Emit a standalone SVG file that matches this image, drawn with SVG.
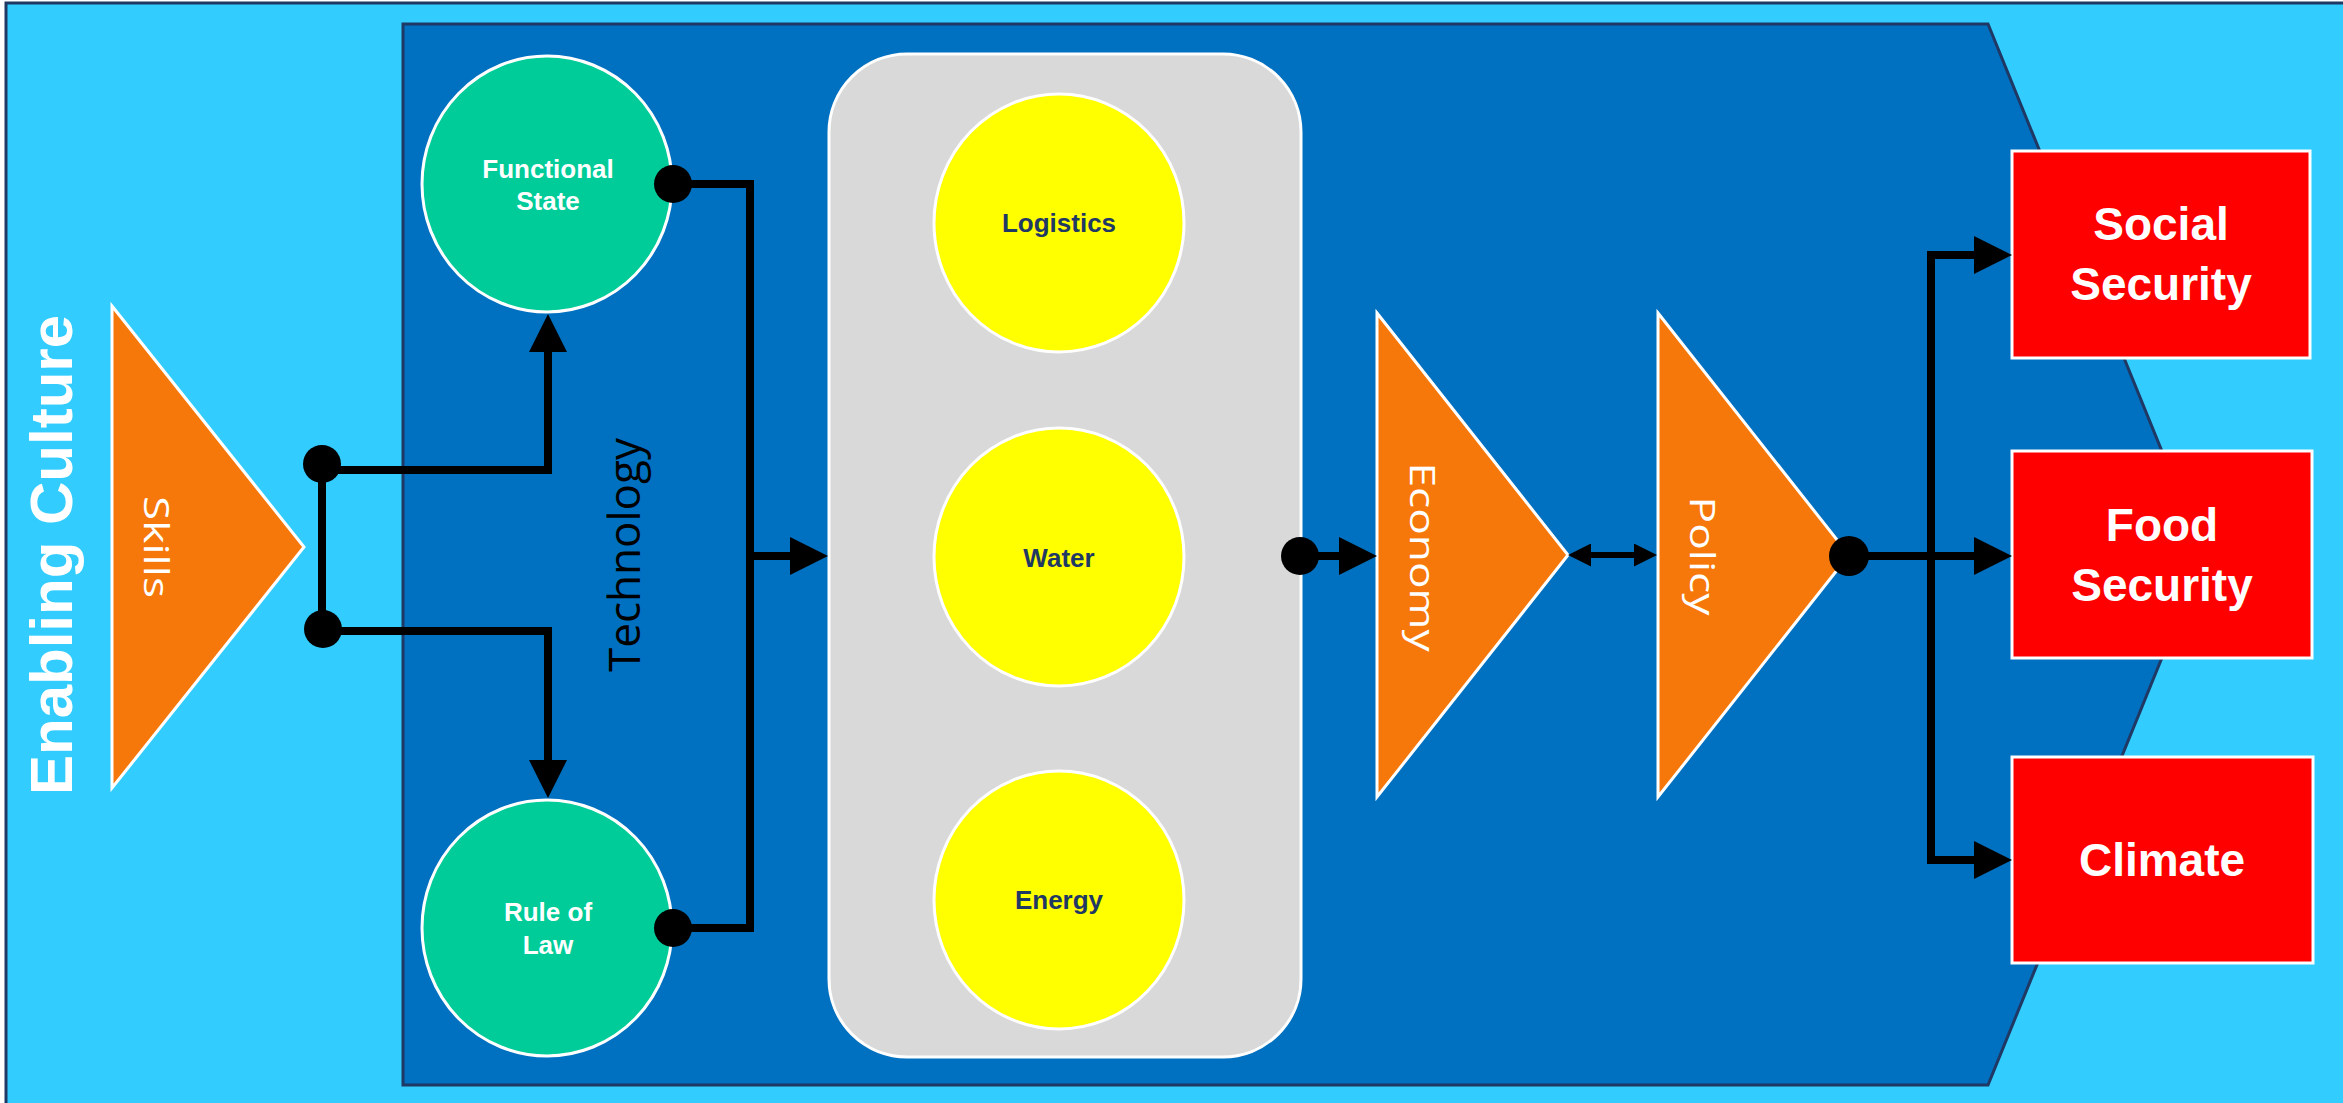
<svg xmlns="http://www.w3.org/2000/svg" width="2343" height="1103" viewBox="0 0 2343 1103">
<defs>
<style>
.frame{fill:#33CCFF;stroke:#1F3864;stroke-width:3}
.zone{fill:#0070C0;stroke:#1F3864;stroke-width:3}
.panel{fill:#D9D9D9;stroke:#FFFFFF;stroke-width:3}
.green{fill:#00CC99;stroke:#FFFFFF;stroke-width:3}
.yellow{fill:#FFFF00;stroke:#FFFFFF;stroke-width:3}
.tri{fill:#F7780A;stroke:#FFFFFF;stroke-width:3;stroke-linejoin:miter}
.box{fill:#FF0000;stroke:#FFFFFF;stroke-width:3}
.wire{fill:none;stroke:#000000;stroke-width:8;stroke-linejoin:miter}
.wire2{fill:none;stroke:#000000;stroke-width:6}
.dot{fill:#000000}
.lbl{font-family:"Liberation Sans",Arial,sans-serif;font-weight:bold;font-size:26px;text-anchor:middle}
.wl{fill:#FFFFFF}
.nl{fill:#1F3864}
.big{font-family:"Liberation Sans",Arial,sans-serif;font-weight:bold;font-size:46px;fill:#FFFFFF;text-anchor:middle}
.thin{font-family:"Open Sans","Liberation Sans",sans-serif;font-weight:400;font-size:34px;fill:#FFFFFF;text-anchor:middle}
.tech{font-family:"Open Sans","Liberation Sans",sans-serif;font-weight:400;font-size:44px;fill:#000000;text-anchor:middle}
.title{font-family:"Liberation Sans",Arial,sans-serif;font-weight:bold;font-size:60px;fill:#FFFFFF;text-anchor:middle}
</style>
<marker id="arr" markerUnits="userSpaceOnUse" markerWidth="38" markerHeight="38" refX="1" refY="19" orient="auto">
<path d="M0,0 L38,19 L0,38 Z" fill="#000000"/>
</marker>
<marker id="arrS" markerUnits="userSpaceOnUse" markerWidth="23" markerHeight="23" refX="1" refY="11.5" orient="auto-start-reverse">
<path d="M0,0 L23,11.5 L0,23 Z" fill="#000000"/>
</marker>
</defs>

<g id="background">
<rect class="frame" x="6" y="3" width="2345" height="1110"/>
<text class="title" transform="translate(72,555) rotate(-90)">Enabling Culture</text>
</g>

<g id="technology-zone">
<polygon class="zone" points="403,24 1988,24 2204,554.5 1988,1085 403,1085"/>
<text class="tech" transform="translate(640,555) rotate(-90)">Technology</text>
</g>

<g id="skills">
<polygon class="tri" points="112,306 304,547 112,788"/>
<text class="thin" transform="translate(144,547) rotate(90) scale(1.3,1)">Skills</text>
</g>

<g id="functional-state">
<ellipse class="green" cx="547" cy="184" rx="125" ry="128"/>
<text class="lbl wl" x="548" y="177.5">Functional</text>
<text class="lbl wl" x="548" y="210">State</text>
</g>

<g id="rule-of-law">
<ellipse class="green" cx="547" cy="928" rx="125" ry="128"/>
<text class="lbl wl" x="548" y="921">Rule of</text>
<text class="lbl wl" x="548" y="954">Law</text>
</g>

<g id="infrastructure">
<rect class="panel" x="829" y="54" width="472" height="1003" rx="78" ry="78"/>
</g>

<g id="logistics">
<ellipse class="yellow" cx="1059" cy="223" rx="125" ry="129"/>
<text class="lbl nl" x="1059" y="232">Logistics</text>
</g>

<g id="water">
<ellipse class="yellow" cx="1059" cy="557" rx="125" ry="129"/>
<text class="lbl nl" x="1059" y="567">Water</text>
</g>

<g id="energy">
<ellipse class="yellow" cx="1059" cy="900" rx="125" ry="129"/>
<text class="lbl nl" x="1059" y="909">Energy</text>
</g>

<g id="economy">
<polygon class="tri" points="1377,313 1568,555 1377,797"/>
<text class="thin" transform="translate(1410,557) rotate(90) scale(1.3,1)">Economy</text>
</g>

<g id="policy">
<polygon class="tri" points="1658,313 1849,555 1658,797"/>
<text class="thin" transform="translate(1690,556) rotate(90) scale(1.3,1)">Policy</text>
</g>

<g id="social-security">
<rect class="box" x="2012" y="151" width="298" height="207"/>
<text class="big" x="2161" y="240">Social</text>
<text class="big" x="2161" y="300">Security</text>
</g>

<g id="food-security">
<rect class="box" x="2012" y="451" width="300" height="207"/>
<text class="big" x="2162" y="541">Food</text>
<text class="big" x="2162" y="601">Security</text>
</g>

<g id="climate">
<rect class="box" x="2012" y="757" width="301" height="206"/>
<text class="big" x="2162" y="876">Climate</text>
</g>

<g id="connectors">
<path class="wire" d="M322,464 V629"/>
<path class="wire" d="M322,470 H548 V351" marker-end="url(#arr)"/>
<path class="wire" d="M323,631 H548 V761" marker-end="url(#arr)"/>
<circle class="dot" cx="322" cy="464" r="19"/>
<circle class="dot" cx="323" cy="629" r="19"/>

<path class="wire" d="M673,184 H750 V928 H673"/>
<path class="wire" d="M750,556 H791" marker-end="url(#arr)"/>
<circle class="dot" cx="673" cy="184" r="19"/>
<circle class="dot" cx="673" cy="928" r="19"/>

<path class="wire" d="M1300,556 H1340" marker-end="url(#arr)"/>
<circle class="dot" cx="1300" cy="556" r="19"/>

<path class="wire2" d="M1590,555 H1635" marker-start="url(#arrS)" marker-end="url(#arrS)"/>

<path class="wire" d="M1849,556 H1975" marker-end="url(#arr)"/>
<path class="wire" d="M1931,556 V255 H1975" marker-end="url(#arr)"/>
<path class="wire" d="M1931,556 V860 H1975" marker-end="url(#arr)"/>
<circle class="dot" cx="1849" cy="556" r="20"/>
</g>
</svg>
